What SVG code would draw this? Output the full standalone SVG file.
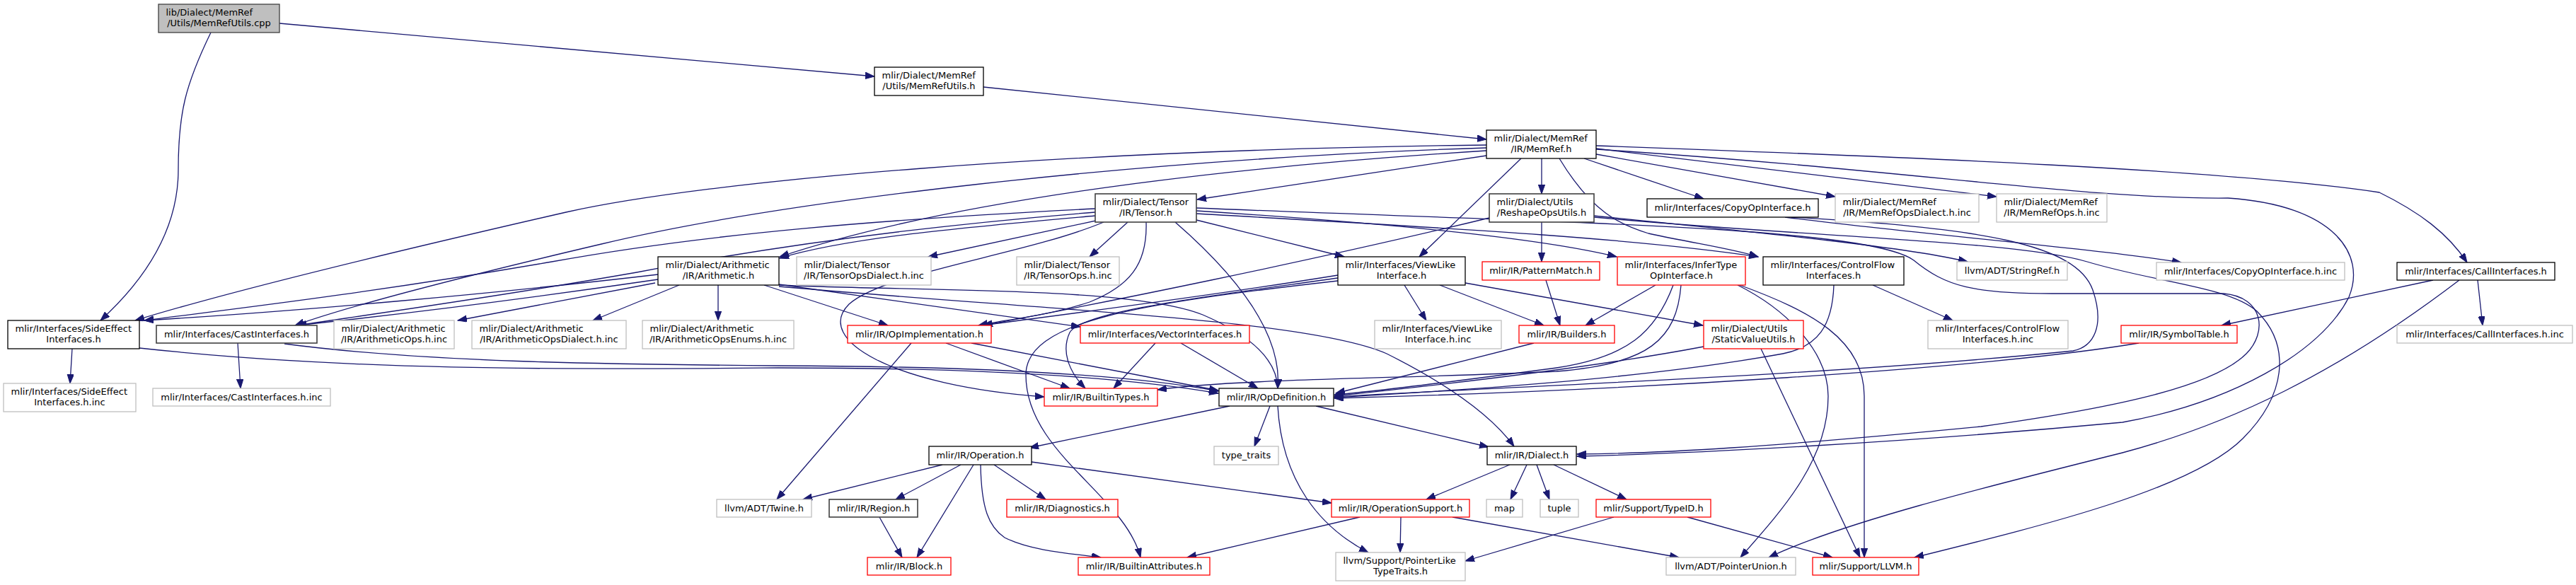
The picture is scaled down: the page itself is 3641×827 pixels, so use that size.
<svg xmlns="http://www.w3.org/2000/svg" width="3641" height="827" viewBox="0 0 3641 827">
<style>
rect.k{fill:#fff;stroke-width:1.3}
.b rect{stroke:#000}
.r rect{stroke:#ff0000}
.g rect{stroke:#bfbfbf}
.d rect{stroke:#404040;stroke-width:1.6}
.root rect{fill:#bfbfbf;stroke:#404040}
text{font-family:"DejaVu Sans","Liberation Sans",sans-serif;font-size:13px;fill:#000}
text.c{text-anchor:middle}
#edges path{fill:none;stroke:#191970;stroke-width:1.3;marker-end:url(#arr)}
</style>
<defs>
<marker id="arr" markerUnits="userSpaceOnUse" markerWidth="14" markerHeight="10" refX="13" refY="4.7" orient="auto">
<path d="M0,0 L13,4.7 L0,9.4 z" fill="#191970" stroke="#191970" stroke-width="1"/>
</marker>
</defs>
<rect width="3641" height="827" fill="#fff"/>
<g id="edges">
<path d="M395,33 L1236,108"/>
<path d="M298,46 C262,120 252,160 252,240 C252,330 200,400 142,453"/>
<path d="M1390,123 L2101,197"/>
<path d="M2101,205 C1500,212 1000,255 800,300 C560,355 330,410 191,453"/>
<path d="M2101,209 C1600,225 1100,285 850,345 C680,385 500,430 417,460"/>
<path d="M2101,213 C1750,235 1350,280 1102,363"/>
<path d="M2101,220 L1692,282"/>
<path d="M2150,224 L2006,363"/>
<path d="M2179,224 L2179,274"/>
<path d="M2204,224 C2250,300 2290,318 2330,330 C2400,345 2450,352 2485,363"/>
<path d="M2239,224 L2408,281"/>
<path d="M2256,218 L2594,278"/>
<path d="M2256,210 L2822,278"/>
<path d="M2256,206 C2700,222 3150,240 3363,272 C3420,300 3460,330 3487,371"/>
<path d="M2256,211 C2700,240 2950,282 3149,280 C3300,290 3345,360 3320,420 C3280,500 3150,570 3000,597 C2700,625 2400,641 2229,645"/>
<path d="M1548,295 C1250,310 1000,330 780,370 C520,415 320,438 204,453"/>
<path d="M1548,300 C1300,320 1080,350 900,385 C700,420 520,445 420,460"/>
<path d="M1548,305 C1380,320 1200,335 1102,365"/>
<path d="M1558,310 L1312,363"/>
<path d="M1594,314 L1540,363"/>
<path d="M1691,311 L1900,363"/>
<path d="M1620,314 C1622,375 1595,405 1540,427 C1480,447 1420,452 1383,460"/>
<path d="M1560,314 C1450,360 1250,385 1200,430 C1150,480 1260,545 1476,561"/>
<path d="M1661,314 C1760,400 1812,480 1806,549"/>
<path d="M1691,298 C1950,315 2170,335 2285,363"/>
<path d="M1691,302 C2000,320 2300,335 2485,363"/>
<path d="M1691,294 C2200,315 2640,320 2705,368 C2750,405 2790,415 2900,415 L3143,415 C3200,420 3205,470 3175,500 C3130,545 3000,575 2800,603 C2500,632 2350,641 2229,642"/>
<path d="M2179,314 L2179,370"/>
<path d="M2253,305 C2500,330 2700,350 2781,370"/>
<path d="M2105,308 C1850,370 1550,430 1390,460"/>
<path d="M2253,307 C2550,335 2850,340 2950,370 C3050,400 3150,405 3190,440 C3240,490 3230,560 3170,620 C3100,690 2900,740 2706,788"/>
<path d="M2523,307 C2700,330 2950,350 3083,371"/>
<path d="M2532,307 C2800,322 2935,345 2958,410 C2975,460 2960,490 2930,496 C2600,530 2100,548 1886,561"/>
<path d="M2340,403 L2241,460"/>
<path d="M2365,403 C2340,470 2300,505 2200,520 C2050,540 1950,553 1886,558"/>
<path d="M2376,403 C2370,480 2330,515 2200,525 C2000,535 1750,535 1636,551"/>
<path d="M2459,403 C2560,440 2635,480 2635,560 L2635,788"/>
<path d="M2456,403 C2530,440 2584,500 2584,560 C2584,650 2520,720 2460,788"/>
<path d="M2647,403 L2760,453"/>
<path d="M2592,403 C2590,460 2570,490 2520,500 C2300,540 2000,555 1886,562"/>
<path d="M1985,403 L2016,453"/>
<path d="M2035,403 L2182,460"/>
<path d="M2071,400 L2407,460"/>
<path d="M1891,389 C1700,420 1500,445 1388,460"/>
<path d="M1891,393 C1700,420 1530,440 1512,470 C1498,500 1515,530 1534,549"/>
<path d="M1891,397 C1600,430 1450,455 1450,530 C1450,640 1590,700 1612,788"/>
<path d="M102,493 L99,542"/>
<path d="M197,492 C500,525 800,522 1100,520 C1400,520 1600,535 1722,556"/>
<path d="M336,485 L340,549"/>
<path d="M402,486 C600,512 850,515 1100,517 C1400,518 1600,530 1722,553"/>
<path d="M930,388 C700,415 420,440 204,453"/>
<path d="M930,395 C760,420 560,445 420,460"/>
<path d="M926,400 L647,453"/>
<path d="M960,403 L838,453"/>
<path d="M1015,403 L1015,453"/>
<path d="M1080,403 L1255,460"/>
<path d="M1101,402 L1527,462"/>
<path d="M1101,403 C1300,412 1600,405 1700,445 C1770,475 1805,510 1806,549"/>
<path d="M1101,405 C1500,440 1850,452 1960,500 C2050,545 2110,590 2140,631"/>
<path d="M2185,396 L2205,460"/>
<path d="M2168,485 L1888,556"/>
<path d="M2408,490 C2250,520 2000,548 1886,560"/>
<path d="M2489,493 L2629,788"/>
<path d="M3023,485 C2800,522 2300,552 1886,563"/>
<path d="M3439,396 L3140,460"/>
<path d="M3502,396 L3509,460"/>
<path d="M3476,396 C3300,530 3150,600 3000,640 C2800,690 2600,740 2500,788"/>
<path d="M1288,485 L1098,706"/>
<path d="M1337,485 L1512,549"/>
<path d="M1373,485 L1722,552"/>
<path d="M1633,485 L1574,549"/>
<path d="M1669,485 L1778,549"/>
<path d="M1738,574 L1455,633"/>
<path d="M1795,574 L1773,631"/>
<path d="M1806,574 C1812,680 1865,745 1934,781"/>
<path d="M1860,574 L2104,632"/>
<path d="M1332,657 L1135,706"/>
<path d="M1358,657 L1266,706"/>
<path d="M1376,657 L1296,788"/>
<path d="M1386,657 C1387,720 1398,745 1420,760 C1460,780 1520,783 1556,788"/>
<path d="M1405,657 L1478,706"/>
<path d="M1458,653 L1882,711"/>
<path d="M1243,731 L1275,788"/>
<path d="M1922,731 L1678,788"/>
<path d="M1980,731 L1979,781"/>
<path d="M2053,731 L2373,788"/>
<path d="M2134,657 L2016,706"/>
<path d="M2158,657 L2135,706"/>
<path d="M2172,657 L2190,706"/>
<path d="M2196,657 L2299,706"/>
<path d="M2281,731 L2071,793"/>
<path d="M2385,731 L2590,788"/>
</g>
<g id="n_root" class="root"><rect class="k" x="224" y="6" width="171" height="40"/><text x="234.5" y="21.5">lib/Dialect/MemRef</text><text class="c" x="309.5" y="36.5">/Utils/MemRefUtils.cpp</text></g>
<g id="n_memrefutils_h" class="b"><rect class="k" x="1236" y="95" width="154" height="40"/><text x="1246.5" y="110.5">mlir/Dialect/MemRef</text><text class="c" x="1313" y="125.5">/Utils/MemRefUtils.h</text></g>
<g id="n_memref_h" class="b"><rect class="k" x="2101" y="184" width="155" height="40"/><text x="2111.5" y="199.5">mlir/Dialect/MemRef</text><text class="c" x="2178.5" y="214.5">/IR/MemRef.h</text></g>
<g id="n_tensor_h" class="d"><rect class="k" x="1548" y="274" width="143" height="40"/><text x="1558.5" y="289.5">mlir/Dialect/Tensor</text><text class="c" x="1619.5" y="304.5">/IR/Tensor.h</text></g>
<g id="n_reshape" class="d"><rect class="k" x="2105" y="274" width="148" height="40"/><text x="2115.5" y="289.5">mlir/Dialect/Utils</text><text class="c" x="2179" y="304.5">/ReshapeOpsUtils.h</text></g>
<g id="n_copyop" class="b"><rect class="k" x="2328" y="281" width="242" height="26"/><text class="c" x="2449" y="298">mlir/Interfaces/CopyOpInterface.h</text></g>
<g id="n_memrefopsdialect_inc" class="g"><rect class="k" x="2594" y="274" width="203" height="40"/><text x="2604.5" y="289.5">mlir/Dialect/MemRef</text><text class="c" x="2695.5" y="304.5">/IR/MemRefOpsDialect.h.inc</text></g>
<g id="n_memrefops_inc" class="g"><rect class="k" x="2822" y="274" width="156" height="40"/><text x="2832.5" y="289.5">mlir/Dialect/MemRef</text><text class="c" x="2900" y="304.5">/IR/MemRefOps.h.inc</text></g>
<g id="n_arith" class="b"><rect class="k" x="930" y="363" width="171" height="40"/><text x="940.5" y="378.5">mlir/Dialect/Arithmetic</text><text class="c" x="1015.5" y="393.5">/IR/Arithmetic.h</text></g>
<g id="n_tensoropsdialect_inc" class="g"><rect class="k" x="1126" y="363" width="190" height="40"/><text x="1136.5" y="378.5">mlir/Dialect/Tensor</text><text class="c" x="1221" y="393.5">/IR/TensorOpsDialect.h.inc</text></g>
<g id="n_tensorops_inc" class="g"><rect class="k" x="1437" y="363" width="145" height="40"/><text x="1447.5" y="378.5">mlir/Dialect/Tensor</text><text class="c" x="1509.5" y="393.5">/IR/TensorOps.h.inc</text></g>
<g id="n_viewlike" class="b"><rect class="k" x="1891" y="363" width="180" height="40"/><text x="1901.5" y="378.5">mlir/Interfaces/ViewLike</text><text class="c" x="1981" y="393.5">Interface.h</text></g>
<g id="n_patternmatch" class="r"><rect class="k" x="2095" y="370" width="166" height="26"/><text class="c" x="2178" y="387">mlir/IR/PatternMatch.h</text></g>
<g id="n_infertype" class="r"><rect class="k" x="2286" y="363" width="181" height="40"/><text x="2296.5" y="378.5">mlir/Interfaces/InferType</text><text class="c" x="2376.5" y="393.5">OpInterface.h</text></g>
<g id="n_controlflow" class="b"><rect class="k" x="2492" y="363" width="199" height="40"/><text x="2502.5" y="378.5">mlir/Interfaces/ControlFlow</text><text class="c" x="2591.5" y="393.5">Interfaces.h</text></g>
<g id="n_stringref" class="g"><rect class="k" x="2766" y="370" width="156" height="26"/><text class="c" x="2844" y="387">llvm/ADT/StringRef.h</text></g>
<g id="n_copyop_inc" class="g"><rect class="k" x="3048" y="371" width="266" height="25"/><text class="c" x="3181" y="387.5">mlir/Interfaces/CopyOpInterface.h.inc</text></g>
<g id="n_callif" class="b"><rect class="k" x="3388" y="371" width="223" height="25"/><text class="c" x="3499.5" y="387.5">mlir/Interfaces/CallInterfaces.h</text></g>
<g id="n_sideeffect" class="b"><rect class="k" x="11" y="453" width="186" height="40"/><text x="21.5" y="468.5">mlir/Interfaces/SideEffect</text><text class="c" x="104" y="483.5">Interfaces.h</text></g>
<g id="n_cast" class="d"><rect class="k" x="221" y="460" width="227" height="25"/><text class="c" x="334.5" y="476.5">mlir/Interfaces/CastInterfaces.h</text></g>
<g id="n_arithops_inc" class="g"><rect class="k" x="472" y="453" width="170" height="40"/><text x="482.5" y="468.5">mlir/Dialect/Arithmetic</text><text class="c" x="557" y="483.5">/IR/ArithmeticOps.h.inc</text></g>
<g id="n_arithopsdialect_inc" class="g"><rect class="k" x="667" y="453" width="218" height="40"/><text x="677.5" y="468.5">mlir/Dialect/Arithmetic</text><text class="c" x="776" y="483.5">/IR/ArithmeticOpsDialect.h.inc</text></g>
<g id="n_arithopsenums_inc" class="g"><rect class="k" x="908" y="453" width="214" height="40"/><text x="918.5" y="468.5">mlir/Dialect/Arithmetic</text><text class="c" x="1015" y="483.5">/IR/ArithmeticOpsEnums.h.inc</text></g>
<g id="n_opimpl" class="r"><rect class="k" x="1198" y="460" width="203" height="25"/><text class="c" x="1299.5" y="476.5">mlir/IR/OpImplementation.h</text></g>
<g id="n_vector" class="r"><rect class="k" x="1527" y="460" width="239" height="25"/><text class="c" x="1646.5" y="476.5">mlir/Interfaces/VectorInterfaces.h</text></g>
<g id="n_viewlike_inc" class="g"><rect class="k" x="1943" y="453" width="179" height="40"/><text x="1953.5" y="468.5">mlir/Interfaces/ViewLike</text><text class="c" x="2032.5" y="483.5">Interface.h.inc</text></g>
<g id="n_builders" class="r"><rect class="k" x="2147" y="460" width="135" height="25"/><text class="c" x="2214.5" y="476.5">mlir/IR/Builders.h</text></g>
<g id="n_staticvalue" class="r"><rect class="k" x="2408" y="453" width="141" height="40"/><text x="2418.5" y="468.5">mlir/Dialect/Utils</text><text class="c" x="2478.5" y="483.5">/StaticValueUtils.h</text></g>
<g id="n_controlflow_inc" class="g"><rect class="k" x="2725" y="453" width="198" height="40"/><text x="2735.5" y="468.5">mlir/Interfaces/ControlFlow</text><text class="c" x="2824" y="483.5">Interfaces.h.inc</text></g>
<g id="n_symboltable" class="r"><rect class="k" x="2998" y="460" width="164" height="25"/><text class="c" x="3080" y="476.5">mlir/IR/SymbolTable.h</text></g>
<g id="n_callif_inc" class="g"><rect class="k" x="3388" y="460" width="248" height="25"/><text class="c" x="3512" y="476.5">mlir/Interfaces/CallInterfaces.h.inc</text></g>
<g id="n_sideeffect_inc" class="g"><rect class="k" x="5" y="542" width="187" height="40"/><text x="15.5" y="557.5">mlir/Interfaces/SideEffect</text><text class="c" x="98.5" y="572.5">Interfaces.h.inc</text></g>
<g id="n_cast_inc" class="g"><rect class="k" x="216" y="549" width="251" height="25"/><text class="c" x="341.5" y="565.5">mlir/Interfaces/CastInterfaces.h.inc</text></g>
<g id="n_builtintypes" class="r"><rect class="k" x="1476" y="549" width="160" height="25"/><text class="c" x="1556" y="565.5">mlir/IR/BuiltinTypes.h</text></g>
<g id="n_opdef" class="b"><rect class="k" x="1723" y="549" width="162" height="25"/><text class="c" x="1804" y="565.5">mlir/IR/OpDefinition.h</text></g>
<g id="n_operation" class="b"><rect class="k" x="1313" y="631" width="145" height="26"/><text class="c" x="1385.5" y="648">mlir/IR/Operation.h</text></g>
<g id="n_typetraits" class="g"><rect class="k" x="1716" y="631" width="91" height="26"/><text class="c" x="1761.5" y="648">type_traits</text></g>
<g id="n_dialect" class="b"><rect class="k" x="2102" y="631" width="126" height="26"/><text class="c" x="2165" y="648">mlir/IR/Dialect.h</text></g>
<g id="n_twine" class="g"><rect class="k" x="1013" y="706" width="134" height="25"/><text class="c" x="1080" y="722.5">llvm/ADT/Twine.h</text></g>
<g id="n_region" class="d"><rect class="k" x="1172" y="706" width="125" height="25"/><text class="c" x="1234.5" y="722.5">mlir/IR/Region.h</text></g>
<g id="n_diagnostics" class="r"><rect class="k" x="1423" y="706" width="157" height="25"/><text class="c" x="1501.5" y="722.5">mlir/IR/Diagnostics.h</text></g>
<g id="n_opsupport" class="r"><rect class="k" x="1882" y="706" width="195" height="25"/><text class="c" x="1979.5" y="722.5">mlir/IR/OperationSupport.h</text></g>
<g id="n_map" class="g"><rect class="k" x="2101" y="706" width="51" height="25"/><text class="c" x="2126.5" y="722.5">map</text></g>
<g id="n_tuple" class="g"><rect class="k" x="2177" y="706" width="54" height="25"/><text class="c" x="2204" y="722.5">tuple</text></g>
<g id="n_typeid" class="r"><rect class="k" x="2256" y="706" width="162" height="25"/><text class="c" x="2337" y="722.5">mlir/Support/TypeID.h</text></g>
<g id="n_block" class="r"><rect class="k" x="1226" y="788" width="118" height="25"/><text class="c" x="1285" y="804.5">mlir/IR/Block.h</text></g>
<g id="n_builtinattrs" class="r"><rect class="k" x="1524" y="788" width="186" height="25"/><text class="c" x="1617" y="804.5">mlir/IR/BuiltinAttributes.h</text></g>
<g id="n_pointerlike" class="g"><rect class="k" x="1888" y="781" width="183" height="40"/><text x="1898.5" y="796.5">llvm/Support/PointerLike</text><text class="c" x="1979.5" y="811.5">TypeTraits.h</text></g>
<g id="n_pointerunion" class="g"><rect class="k" x="2355" y="788" width="183" height="25"/><text class="c" x="2446.5" y="804.5">llvm/ADT/PointerUnion.h</text></g>
<g id="n_llvm" class="r"><rect class="k" x="2562" y="788" width="150" height="25"/><text class="c" x="2637" y="804.5">mlir/Support/LLVM.h</text></g>
</svg>
